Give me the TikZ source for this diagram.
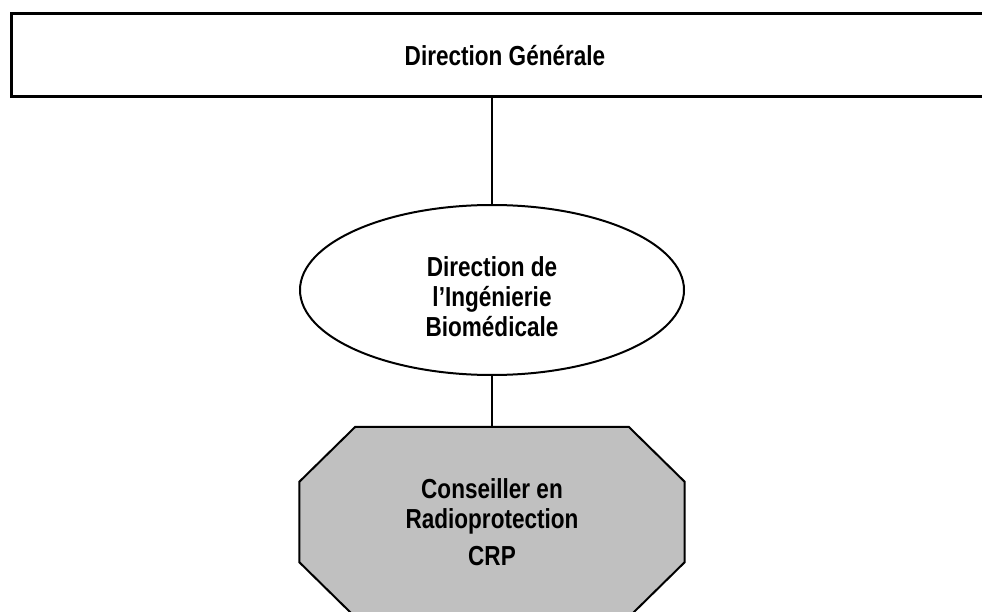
\documentclass[tikz,border=0pt]{standalone}
\usepackage{fontspec}
\setmainfont{Liberation Sans}[FakeStretch=0.82]
\usetikzlibrary{shapes.geometric,backgrounds}
\definecolor{crpgray}{HTML}{C0C0C0}
\begin{document}
\begin{tikzpicture}[x=1pt,y=-1pt]
\tikzstyle{link}= [line width=2pt]
\tikzstyle{lbl}= [font=\fontsize{27.5}{30}\selectfont\bfseries,align=center,inner sep=0pt]
\tikzstyle{dgbox}= [lbl,rectangle,draw,line width=3pt,minimum width=988pt,minimum height=83pt]
\tikzstyle{dibell}= [lbl,ellipse,draw,line width=2pt,minimum width=384pt,minimum height=170pt]
\tikzstyle{crpbox}= [lbl,rectangle,minimum width=385pt,minimum height=190pt]
\tikzstyle{oct}= [draw,line width=2pt,fill=crpgray,line join=miter]

\clip (0,0) rectangle (982,612);
\path
	(505,55.5) node[dgbox] (dg) {Direction Générale}
	(492,290) node[dibell] (dib) {\rule{0pt}{34pt}Direction de\\l’Ingénierie\\Biomédicale}
	(492,522) node[crpbox] (crp) {\fontsize{27.5}{33}\selectfont Conseiller en\\Radioprotection\\[7pt]CRP}
;
% octagon behind the CRP text
\begin{pgfonlayer}{background}
\draw[oct] ([xshift=56pt]crp.north west) -- ([xshift=-56pt]crp.north east)
	-- ([yshift=-55pt]crp.north east) -- ([yshift=55pt]crp.south east)
	-- ([xshift=-56pt]crp.south east) -- ([xshift=56pt]crp.south west)
	-- ([yshift=55pt]crp.south west) -- ([yshift=-55pt]crp.north west) -- cycle;
\end{pgfonlayer}
\draw[link] (dib.north) -- (dib.north |- dg.south);
\draw[link] (dib.south) -- (crp.north);
\end{tikzpicture}
\end{document}
